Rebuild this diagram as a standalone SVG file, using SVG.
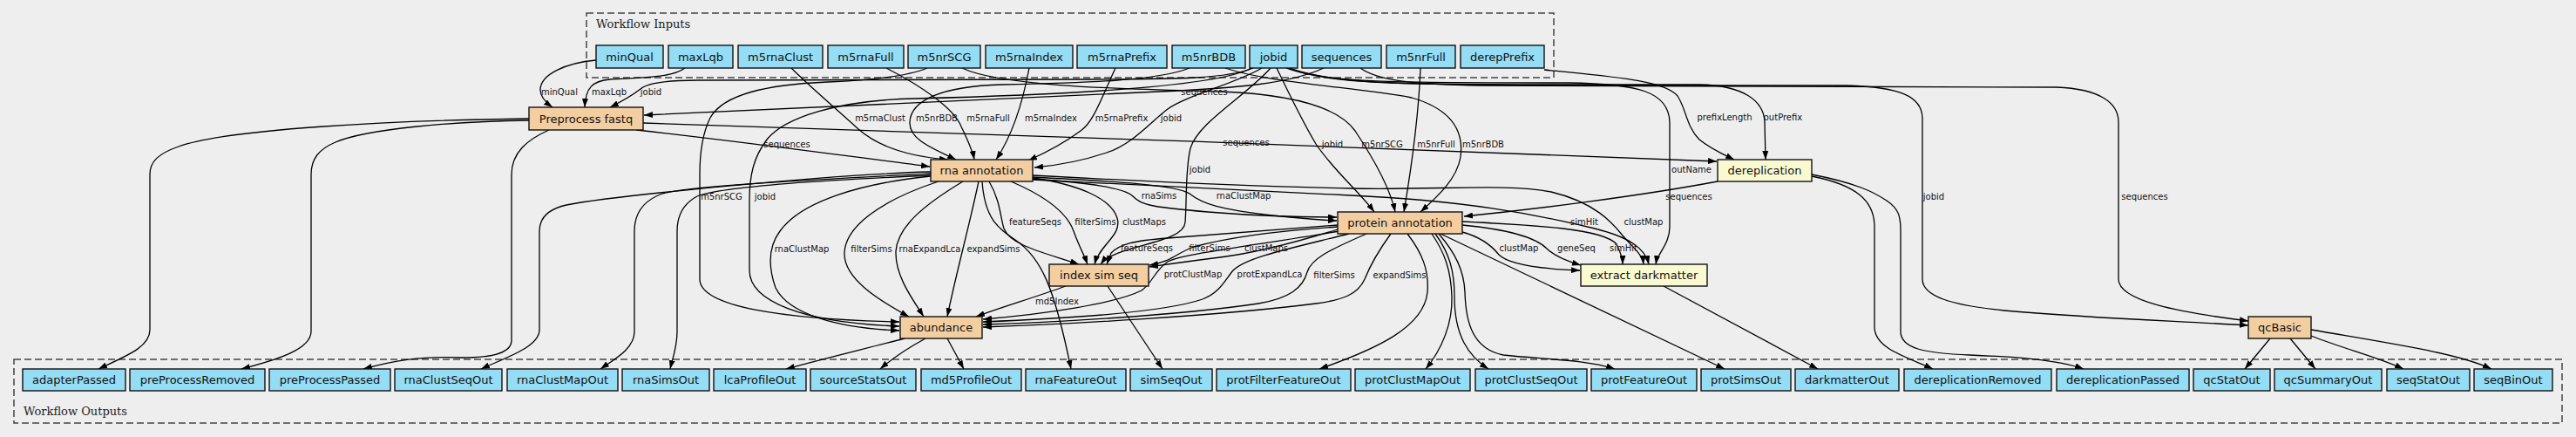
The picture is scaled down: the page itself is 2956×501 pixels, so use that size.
<svg xmlns="http://www.w3.org/2000/svg" width="2956" height="501" viewBox="0 0 2956 501">
<defs>
<marker id="ah" viewBox="0 0 10 7" refX="10" refY="3.5" markerWidth="10" markerHeight="7" markerUnits="userSpaceOnUse" orient="auto"><path d="M0,0 L10,3.5 L0,7 z" fill="#000"/></marker>
<style>
.cl{fill:none;stroke:#444;stroke-width:1.5;stroke-dasharray:8,4}
.clt{font-family:"DejaVu Serif","Liberation Serif",serif;font-size:13px;fill:#222}
.n rect{stroke:#111;stroke-width:1.4}
.in rect{fill:#94DDF4}
.st rect{fill:#F3CEA1}
.yw rect{fill:#FAFAD2}
.n text{font-family:"DejaVu Sans","Liberation Sans",sans-serif;font-size:13px;text-anchor:middle;fill:#111}
#connectors path{fill:none;stroke:#000;stroke-width:1.3;marker-end:url(#ah)}
#labels text{font-family:"DejaVu Sans","Liberation Sans",sans-serif;font-size:10px;text-anchor:middle;fill:#111}
</style>
</defs>
<rect width="2956" height="501" fill="#EEEEEE"/>
<g id="cluster-inputs"><rect class="cl" x="673" y="15" width="1110" height="74"/><text class="clt" x="684" y="32">Workflow Inputs</text></g>
<g id="cluster-outputs"><rect class="cl" x="16" y="412" width="2924" height="73"/><text class="clt" x="27" y="476">Workflow Outputs</text></g>

<g id="connectors">
<path d="M684,69 C650,72 620,85 620,103 C620,112 627,118 634,123"/>
<path d="M786,78 C770,90 730,89 700,91 C680,93 672,100 671,123"/>
<path d="M1438,78 C1410,90 1350,91 1250,91 L800,92 C760,92 742,96 735,102 C722,112 712,117 700,123"/>
<path d="M1519,78 C1480,96 1420,101 1330,105 C1100,114 900,125 739,132"/>
<path d="M607,136 C450,138 260,148 205,168 C182,176 172,185 172,200 L172,378 C172,398 145,408 113,423"/>
<path d="M607,138 C520,139 420,148 385,163 C366,171 357,182 357,200 L357,380 C357,400 320,412 277,423"/>
<path d="M630,149 C605,160 587,175 587,200 L587,390 C587,405 565,410 530,410 C480,408 450,414 417,423"/>
<path d="M730,149 C850,162 980,180 1067,191"/>
<path d="M738,141 C1100,152 1600,170 1970,185"/>
<path d="M908,78 C930,100 960,125 985,148 C1010,170 1050,180 1088,183"/>
<path d="M1365,78 C1330,92 1250,95 1150,97 C1080,99 1045,115 1044,140 C1043,160 1070,170 1097,183"/>
<path d="M1017,78 C1060,100 1095,125 1103,145 C1110,160 1116,172 1118,183"/>
<path d="M1181,78 C1175,110 1165,150 1143,183"/>
<path d="M1280,78 C1265,110 1255,140 1240,150 C1220,165 1200,175 1180,184"/>
<path d="M1448,78 C1420,95 1360,110 1340,125 C1320,140 1300,165 1270,175 C1240,185 1210,190 1187,192"/>
<path d="M1064,78 C1040,88 1000,92 950,94 C880,97 830,108 815,135 C805,155 803,180 803,200 L803,320 C803,352 900,366 1032,369"/>
<path d="M1436,78 C1400,98 1250,108 1050,113 C960,115 900,135 880,160 C865,180 860,200 860,230 L860,310 C860,345 920,370 1032,374"/>
<path d="M1068,202 C990,210 920,230 895,265 C880,285 883,310 890,330 C905,360 960,376 1032,379"/>
<path d="M1077,208 C1010,230 970,260 969,290 C968,320 1010,345 1043,363"/>
<path d="M1105,208 C1060,235 1030,260 1028,288 C1027,315 1045,340 1060,363"/>
<path d="M1123,208 C1112,260 1098,310 1087,363"/>
<path d="M1223,328 C1190,340 1150,352 1120,363"/>
<path d="M1127,208 C1130,250 1145,262 1165,275 C1195,295 1210,330 1229,423"/>
<path d="M1135,208 C1148,230 1148,250 1152,262 C1160,282 1200,290 1238,303"/>
<path d="M1160,208 C1200,225 1225,245 1232,265 C1238,282 1244,292 1248,303"/>
<path d="M1185,204 C1240,212 1275,228 1282,250 C1288,270 1262,280 1256,303"/>
<path d="M1458,78 C1430,110 1375,140 1366,170 C1360,195 1362,230 1360,255 C1358,280 1280,280 1263,303"/>
<path d="M1185,205 C1250,210 1290,215 1300,225 C1310,235 1320,238 1400,244 C1450,248 1500,249 1534,249"/>
<path d="M1185,203 C1280,208 1350,212 1365,222 C1380,234 1400,240 1460,247 C1490,250 1510,252 1534,253"/>
<path d="M1185,201 C1350,210 1450,214 1550,216 C1650,218 1730,210 1780,220 C1830,232 1850,255 1862,270 C1875,285 1885,292 1886,303"/>
<path d="M1185,206 C1350,215 1450,220 1550,224 C1680,230 1760,245 1830,262 C1870,272 1888,285 1892,303"/>
<path d="M1971,208 C1880,225 1760,240 1680,248"/>
<path d="M1465,78 C1478,105 1495,140 1510,165 C1530,195 1560,220 1577,243"/>
<path d="M1104,78 C1150,100 1300,102 1400,105 C1480,108 1535,122 1555,150 C1575,180 1595,215 1601,243"/>
<path d="M1630,78 C1628,130 1620,190 1611,243"/>
<path d="M1406,78 C1460,96 1560,100 1620,112 C1665,125 1680,150 1676,180 C1672,205 1650,225 1630,243"/>
<path d="M1772,80 C1850,88 1910,92 1925,110 C1935,125 1935,145 1950,160 C1965,172 1980,178 1990,183"/>
<path d="M1478,78 C1520,96 1600,97 1800,97 L1950,97 C2000,98 2024,115 2025,140 L2026,183"/>
<path d="M1476,78 C1520,95 1600,95 1800,95 C1880,96 1915,105 1916,140 L1916,260 C1916,280 1902,290 1900,303"/>
<path d="M1480,78 C1530,96 1600,97 1800,98 L2120,98 C2180,100 2205,110 2206,135 L2206,320 C2206,340 2240,350 2300,356 C2400,365 2500,368 2580,373"/>
<path d="M1561,78 C1580,92 1620,97 1700,98 L2360,100 C2410,102 2431,118 2431,140 L2431,320 C2431,345 2500,358 2580,368"/>
<path d="M2079,202 C2130,212 2151,230 2151,260 L2151,375 C2151,400 2190,410 2218,423"/>
<path d="M2079,200 C2130,210 2150,220 2165,230 C2180,240 2181,250 2181,265 L2181,380 C2181,400 2210,405 2260,407 C2310,409 2360,412 2391,423"/>
<path d="M1909,328 L2086,423"/>
<path d="M1653,268 L1979,423"/>
<path d="M1651,268 C1670,290 1680,310 1681,335 C1682,370 1690,400 1725,407 C1770,412 1820,412 1853,423"/>
<path d="M1647,268 C1663,290 1669,310 1669,340 C1669,385 1685,408 1708,423"/>
<path d="M1643,268 C1658,290 1665,310 1666,340 C1667,370 1655,400 1636,423"/>
<path d="M1615,268 C1632,290 1640,310 1638,335 C1634,375 1580,400 1514,423"/>
<path d="M1537,265 C1450,280 1360,290 1340,300 C1325,310 1322,325 1310,333 C1280,348 1200,360 1128,366"/>
<path d="M1548,268 C1480,285 1430,295 1415,310 C1405,322 1400,335 1380,343 C1330,360 1200,366 1128,369"/>
<path d="M1568,268 C1530,285 1505,295 1500,312 C1495,330 1480,342 1444,348 C1350,362 1200,370 1128,372"/>
<path d="M1596,268 C1580,290 1572,305 1566,320 C1558,338 1540,344 1510,348 C1400,362 1220,372 1128,375"/>
<path d="M1535,258 C1450,265 1380,270 1340,273 C1300,276 1285,280 1275,290 L1270,303"/>
<path d="M1535,260 C1460,265 1410,272 1370,283 C1350,290 1345,300 1319,304"/>
<path d="M1535,263 C1480,280 1440,290 1400,295 C1360,300 1340,303 1319,306"/>
<path d="M1678,266 C1700,272 1712,282 1720,292 C1730,302 1760,308 1813,310"/>
<path d="M1678,258 C1720,262 1760,270 1775,285 C1785,295 1800,300 1814,304"/>
<path d="M1678,254 C1760,258 1840,262 1855,280 C1860,290 1862,297 1862,303"/>
<path d="M1271,328 L1334,423"/>
<path d="M1038,388 C1000,398 950,410 902,423"/>
<path d="M1062,388 C1040,400 1025,410 1010,423"/>
<path d="M1087,388 L1106,423"/>
<path d="M1068,197 C950,200 700,225 650,235 C628,240 619,250 619,265 L619,378 C619,398 580,410 552,423"/>
<path d="M1068,199 C950,205 790,213 760,222 C738,230 728,245 728,265 L728,380 C728,400 705,412 689,423"/>
<path d="M1068,201 C960,206 830,213 800,225 C785,233 777,245 777,265 L777,380 C777,398 772,410 769,423"/>
<path d="M2605,388 L2576,423"/>
<path d="M2628,388 L2657,423"/>
<path d="M2652,385 C2690,400 2730,410 2758,423"/>
<path d="M2652,378 C2750,395 2820,405 2859,423"/>
</g>

<g id="labels">
<text x="642" y="108.5">minQual</text>
<text x="699" y="108.5">maxLqb</text>
<text x="747" y="108.5">jobid</text>
<text x="1382" y="108.5">sequences</text>
<text x="903" y="168.5">sequences</text>
<text x="1010" y="138.5">m5rnaClust</text>
<text x="1075" y="138.5">m5nrBDB</text>
<text x="1134" y="138.5">m5rnaFull</text>
<text x="1206" y="138.5">m5rnaIndex</text>
<text x="1287" y="138.5">m5rnaPrefix</text>
<text x="1344" y="138.5">jobid</text>
<text x="1430" y="166.5">sequences</text>
<text x="1529" y="168.5">jobid</text>
<text x="1586" y="168.5">m5nrSCG</text>
<text x="1648" y="168.5">m5nrFull</text>
<text x="1702" y="168.5">m5nrBDB</text>
<text x="1979" y="137.5">prefixLength</text>
<text x="2046" y="137.5">outPrefix</text>
<text x="1941" y="197.5">outName</text>
<text x="1377" y="197.5">jobid</text>
<text x="1938" y="228.5">sequences</text>
<text x="828" y="228.5">m5nrSCG</text>
<text x="878" y="228.5">jobid</text>
<text x="1330" y="227.5">rnaSims</text>
<text x="1427" y="227.5">rnaClustMap</text>
<text x="1818" y="257.5">simHit</text>
<text x="1886" y="257.5">clustMap</text>
<text x="1188" y="257.5">featureSeqs</text>
<text x="1257" y="257.5">filterSims</text>
<text x="1313" y="257.5">clustMaps</text>
<text x="920" y="288.5">rnaClustMap</text>
<text x="1000" y="288.5">filterSims</text>
<text x="1067" y="288.5">rnaExpandLca</text>
<text x="1140" y="288.5">expandSims</text>
<text x="1316" y="287.5">featureSeqs</text>
<text x="1388" y="287.5">filterSims</text>
<text x="1453" y="287.5">clustMaps</text>
<text x="1743" y="287.5">clustMap</text>
<text x="1809" y="287.5">geneSeq</text>
<text x="1863" y="287.5">simHit</text>
<text x="1369" y="317.5">protClustMap</text>
<text x="1457" y="317.5">protExpandLca</text>
<text x="1531" y="318.5">filterSims</text>
<text x="1606" y="318.5">expandSims</text>
<text x="1213" y="348.5">md5Index</text>
<text x="2219" y="228.5">jobid</text>
<text x="2461" y="228.5">sequences</text>
</g>

<g id="in-minQual" class="n in"><rect x="684" y="52" width="77" height="26"/><text x="722.5" y="69.5">minQual</text></g>
<g id="in-maxLqb" class="n in"><rect x="767" y="52" width="74" height="26"/><text x="804" y="69.5">maxLqb</text></g>
<g id="in-m5rnaClust" class="n in"><rect x="847" y="52" width="97" height="26"/><text x="895.5" y="69.5">m5rnaClust</text></g>
<g id="in-m5rnaFull" class="n in"><rect x="950" y="52" width="87" height="26"/><text x="993.5" y="69.5">m5rnaFull</text></g>
<g id="in-m5nrSCG" class="n in"><rect x="1042" y="52" width="83" height="26"/><text x="1083.5" y="69.5">m5nrSCG</text></g>
<g id="in-m5rnaIndex" class="n in"><rect x="1131" y="52" width="100" height="26"/><text x="1181" y="69.5">m5rnaIndex</text></g>
<g id="in-m5rnaPrefix" class="n in"><rect x="1236" y="52" width="103" height="26"/><text x="1287.5" y="69.5">m5rnaPrefix</text></g>
<g id="in-m5nrBDB" class="n in"><rect x="1345" y="52" width="84" height="26"/><text x="1387" y="69.5">m5nrBDB</text></g>
<g id="in-jobid" class="n in"><rect x="1434" y="52" width="55" height="26"/><text x="1461.5" y="69.5">jobid</text></g>
<g id="in-sequences" class="n in"><rect x="1494" y="52" width="91" height="26"/><text x="1539.5" y="69.5">sequences</text></g>
<g id="in-m5nrFull" class="n in"><rect x="1591" y="52" width="79" height="26"/><text x="1630.5" y="69.5">m5nrFull</text></g>
<g id="in-derepPrefix" class="n in"><rect x="1676" y="52" width="96" height="26"/><text x="1724" y="69.5">derepPrefix</text></g>

<g id="step-preprocess" class="n st"><rect x="607" y="123" width="131" height="26"/><text x="672.5" y="140.5">Preprocess fastq</text></g>
<g id="step-rna" class="n st"><rect x="1068" y="183" width="117" height="25"/><text x="1126.5" y="200">rna annotation</text></g>
<g id="step-dereplication" class="n yw"><rect x="1971" y="183" width="108" height="25"/><text x="2025" y="200">dereplication</text></g>
<g id="step-protein" class="n st"><rect x="1535" y="243" width="143" height="25"/><text x="1606.5" y="260">protein annotation</text></g>
<g id="step-indexsim" class="n st"><rect x="1204" y="303" width="114" height="25"/><text x="1261" y="320">index sim seq</text></g>
<g id="step-darkmatter" class="n yw"><rect x="1814" y="303" width="145" height="25"/><text x="1886.5" y="320">extract darkmatter</text></g>
<g id="step-abundance" class="n st"><rect x="1033" y="363" width="94" height="25"/><text x="1080" y="380">abundance</text></g>
<g id="step-qcBasic" class="n st"><rect x="2580" y="363" width="72" height="25"/><text x="2616" y="380">qcBasic</text></g>

<g id="out-adapterPassed" class="n in"><rect x="26" y="423" width="118" height="25"/><text x="85" y="440">adapterPassed</text></g>
<g id="out-preProcessRemoved" class="n in"><rect x="149" y="423" width="155" height="25"/><text x="226.5" y="440">preProcessRemoved</text></g>
<g id="out-preProcessPassed" class="n in"><rect x="309" y="423" width="139" height="25"/><text x="378.5" y="440">preProcessPassed</text></g>
<g id="out-rnaClustSeqOut" class="n in"><rect x="453" y="423" width="123" height="25"/><text x="514.5" y="440">rnaClustSeqOut</text></g>
<g id="out-rnaClustMapOut" class="n in"><rect x="582" y="423" width="127" height="25"/><text x="645.5" y="440">rnaClustMapOut</text></g>
<g id="out-rnaSimsOut" class="n in"><rect x="714" y="423" width="100" height="25"/><text x="764" y="440">rnaSimsOut</text></g>
<g id="out-lcaProfileOut" class="n in"><rect x="819" y="423" width="106" height="25"/><text x="872" y="440">lcaProfileOut</text></g>
<g id="out-sourceStatsOut" class="n in"><rect x="930" y="423" width="121" height="25"/><text x="990.5" y="440">sourceStatsOut</text></g>
<g id="out-md5ProfileOut" class="n in"><rect x="1057" y="423" width="115" height="25"/><text x="1114.5" y="440">md5ProfileOut</text></g>
<g id="out-rnaFeatureOut" class="n in"><rect x="1177" y="423" width="115" height="25"/><text x="1234.5" y="440">rnaFeatureOut</text></g>
<g id="out-simSeqOut" class="n in"><rect x="1297" y="423" width="94" height="25"/><text x="1344" y="440">simSeqOut</text></g>
<g id="out-protFilterFeatureOut" class="n in"><rect x="1396" y="423" width="154" height="25"/><text x="1473" y="440">protFilterFeatureOut</text></g>
<g id="out-protClustMapOut" class="n in"><rect x="1555" y="423" width="132" height="25"/><text x="1621" y="440">protClustMapOut</text></g>
<g id="out-protClustSeqOut" class="n in"><rect x="1693" y="423" width="128" height="25"/><text x="1757" y="440">protClustSeqOut</text></g>
<g id="out-protFeatureOut" class="n in"><rect x="1826" y="423" width="121" height="25"/><text x="1886.5" y="440">protFeatureOut</text></g>
<g id="out-protSimsOut" class="n in"><rect x="1952" y="423" width="103" height="25"/><text x="2003.5" y="440">protSimsOut</text></g>
<g id="out-darkmatterOut" class="n in"><rect x="2060" y="423" width="119" height="25"/><text x="2119.5" y="440">darkmatterOut</text></g>
<g id="out-dereplicationRemoved" class="n in"><rect x="2185" y="423" width="169" height="25"/><text x="2269.5" y="440">dereplicationRemoved</text></g>
<g id="out-dereplicationPassed" class="n in"><rect x="2360" y="423" width="152" height="25"/><text x="2436" y="440">dereplicationPassed</text></g>
<g id="out-qcStatOut" class="n in"><rect x="2517" y="423" width="88" height="25"/><text x="2561" y="440">qcStatOut</text></g>
<g id="out-qcSummaryOut" class="n in"><rect x="2610" y="423" width="123" height="25"/><text x="2671.5" y="440">qcSummaryOut</text></g>
<g id="out-seqStatOut" class="n in"><rect x="2739" y="423" width="95" height="25"/><text x="2786.5" y="440">seqStatOut</text></g>
<g id="out-seqBinOut" class="n in"><rect x="2839" y="423" width="90" height="25"/><text x="2884" y="440">seqBinOut</text></g>
</svg>
